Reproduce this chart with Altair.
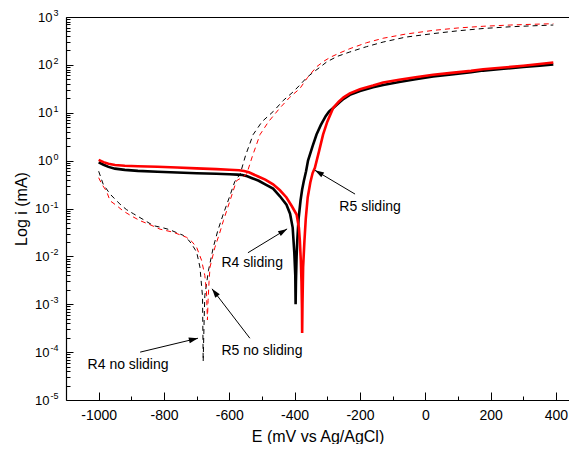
import math
import altair as alt
import pandas as pd

# ---------------- data ----------------
R4_SLIDING_E = [-1000, -985, -970, -950, -920, -880, -820, -760, -700, -640, -600, -575, -560, -545, -530,
                -510, -490, -466, -445, -425, -414, -406, -401, -398, -397, -396, -394, -392, -388, -382,
                -377, -372, -365, -359, -345, -333, -320, -305, -295, -282, -265, -250, -231, -200, -160,
                -129, -80, -30, 24, 80, 140, 177, 240, 300, 350, 392]
R4_SLIDING_I = [0.92, 0.82, 0.74, 0.68, 0.64, 0.61, 0.585, 0.565, 0.545, 0.53, 0.52, 0.51, 0.50, 0.47, 0.43,
                0.38, 0.32, 0.26, 0.18, 0.12, 0.078, 0.04, 0.012, 0.004, 0.001, 0.003, 0.01, 0.021, 0.06, 0.145,
                0.25, 0.37, 0.6, 1.0, 2.0, 3.5, 5.5, 8.5, 10.5, 12.6, 16, 19.5, 23.7, 28.5, 34,
                38, 44, 50, 57, 63, 70, 76, 83, 90, 96, 102]

R5_SLIDING_E = [-1000, -985, -970, -950, -920, -880, -820, -760, -700, -640, -600, -570, -555, -540, -527,
                -510, -490, -466, -445, -425, -408, -394, -387, -384, -381, -379, -377.5, -377, -376, -374,
                -370, -366, -360, -352, -345, -338, -325, -313, -300, -282, -265, -250, -231, -200, -160,
                -129, -80, -30, 24, 80, 140, 177, 240, 300, 350, 392]
R5_SLIDING_I = [1.04, 0.93, 0.86, 0.81, 0.78, 0.765, 0.745, 0.72, 0.69, 0.665, 0.645, 0.63, 0.61, 0.57, 0.52,
                0.46, 0.40, 0.32, 0.24, 0.17, 0.11, 0.075, 0.04, 0.021, 0.008, 0.003, 0.0008, 0.00025, 0.001, 0.006,
                0.021, 0.06, 0.17, 0.35, 0.55, 0.71, 1.6, 3.5, 6.5, 12.6, 17, 21, 25.5, 31, 37,
                43, 49, 55, 62, 68, 75, 81, 88, 96, 104, 112]

R4_STATIC_E = [-1000, -986, -965, -945, -935, -915, -894, -860, -833, -800, -782, -760, -741, -725, -715,
               -700, -690, -682, -680, -677, -675, -664, -649, -635, -618, -600, -583, -567, -550, -527,
               -500, -465, -435, -404, -384, -362, -343, -320, -302, -270, -231, -180, -129, -60, 24,
               100, 177, 260, 330, 392]
R4_STATIC_I = [0.6, 0.32, 0.2, 0.145, 0.124, 0.095, 0.078, 0.057, 0.044, 0.039, 0.036, 0.031, 0.0275, 0.022, 0.018,
               0.0123, 0.006, 0.00145, 0.000064, 0.0005, 0.0015, 0.005, 0.0155, 0.035, 0.078, 0.17, 0.37, 0.52, 1.3, 3.5,
               6.5, 10.7, 18, 27.5, 38, 55, 70, 92, 115, 150, 186, 240, 300, 380, 450,
               515, 575, 625, 655, 680]

R5_STATIC_E = [-1000, -990, -976, -965, -945, -925, -900, -874, -840, -812, -772, -731, -715, -700, -685,
               -675, -670, -667, -665, -662, -659, -644, -630, -618, -598, -578, -560, -547, -530, -506,
               -480, -445, -415, -384, -360, -333, -310, -290, -260, -231, -180, -129, -60, 24, 100,
               177, 260, 330, 392]
R5_STATIC_I = [0.44, 0.32, 0.23, 0.145, 0.115, 0.089, 0.07, 0.056, 0.045, 0.037, 0.032, 0.025, 0.0205, 0.0155, 0.0083,
               0.004, 0.0019, 0.00047, 0.0012, 0.003, 0.006, 0.0155, 0.03, 0.056, 0.145, 0.38, 0.45, 0.52, 1.2, 3.5,
               6.5, 12.6, 21, 32, 55, 91, 120, 145, 180, 218, 290, 360, 440, 525, 590,
               640, 680, 705, 725]

LABELS = ["R4 no sliding", "R5 no sliding", "R4 sliding", "R5 sliding"]
LABEL_E = [-910, -500, -530, -169]
LABEL_I = [5.3e-5, 1.05e-4, 7.4e-3, 0.107]
ARROW_E0 = [-873, -537, -543, -215]
ARROW_I0 = [1.0e-4, 1.95e-4, 0.0119, 0.2]
ARROW_E1 = [-696, -653, -423, -338]
ARROW_I1 = [1.95e-4, 2.1e-3, 0.0375, 0.63]

X_MAJOR = list(range(-1000, 401, 200))
X_MINOR = list(range(-900, 301, 200))
Y_DECADES = [10.0 ** k for k in range(-5, 4)]
Y_MINOR = [m * 10.0 ** k for k in range(-5, 3) for m in range(2, 10)]

# ---------------- layout ----------------
W, H = 503, 383
X_DOMAIN = [-1100, 440]
Y_DOMAIN = [1e-5, 1e3]
FONT = "Liberation Sans"


def px(e):
    return (e - X_DOMAIN[0]) / (X_DOMAIN[1] - X_DOMAIN[0]) * W


def py(v):
    lo, hi = math.log10(Y_DOMAIN[0]), math.log10(Y_DOMAIN[1])
    return (hi - math.log10(v)) / (hi - lo) * H


def frame(E, I):
    return pd.DataFrame({"E": E, "i": I, "order": list(range(len(E)))})


xs = alt.Scale(domain=X_DOMAIN, nice=False, zero=False)
ys = alt.Scale(type="log", domain=Y_DOMAIN, nice=False)

common = dict(grid=False, labelFlush=False, labelOverlap=False)

x_main_axis = alt.Axis(values=X_MAJOR, labelExpr="'' + datum.value", ticks=False,
                       domainColor="black", domainWidth=1.2, labelFont=FONT, labelFontSize=14,
                       labelColor="black", labelPadding=8, title="E (mV vs Ag/AgCl)", titleFont=FONT,
                       titleFontSize=16, titleFontWeight="normal", titleColor="black", titlePadding=6,
                       **common)
y_main_axis = alt.Axis(values=Y_DECADES, labelExpr="'10'", ticks=False, domainColor="black",
                       domainWidth=1.2, labelFont=FONT, labelFontSize=13, labelColor="black",
                       labelPadding={"condition": {"test": "datum.value < 1", "value": 17}, "value": 14},
                       title="Log i (mA)", titleFont=FONT, titleFontSize=16, titleFontWeight="normal",
                       titleColor="black", titlePadding=5, **common)
y_exp_axis = alt.Axis(values=Y_DECADES, labelExpr="'' + round(log(datum.value) / LN10)", ticks=False,
                      domain=False, labelFont=FONT, labelFontSize=9, labelColor="black", labelAlign="right",
                      labelPadding=8, labelOffset=-4.5, title=None, **common)
y_tick_axis = alt.Axis(orient="right", offset=-W, values=Y_DECADES + Y_MINOR, labels=False, domain=False,
                       tickColor="black", tickWidth=1,
                       tickSize={"condition": {"test": "abs(log(datum.value) / LN10 - round(log(datum.value) / LN10)) < 0.000001",
                                               "value": 7}, "value": 4},
                       title=None, **common)
x_tick_axis = alt.Axis(orient="top", offset=-H, values=X_MAJOR + X_MINOR, labels=False, domain=False,
                       tickColor="black", tickWidth=1,
                       tickSize={"condition": {"test": "datum.value % 200 == 0", "value": 8}, "value": 4},
                       title=None, **common)
x_top_axis = alt.Axis(orient="top", labels=False, ticks=False, domain=True, domainColor="black",
                      domainWidth=1.2, title=None, **common)


def line(df, color, width, dash, xaxis=None, yaxis=None):
    kw = dict(color=color, strokeWidth=width, clip=True)
    if dash:
        kw["strokeDash"] = dash
    return alt.Chart(df).mark_line(**kw).encode(
        x=alt.X("E:Q", scale=xs, axis=xaxis),
        y=alt.Y("i:Q", scale=ys, axis=yaxis),
        order="order:Q",
    )


black_solid = line(frame(R4_SLIDING_E, R4_SLIDING_I), "black", 2.6, None, x_main_axis, y_main_axis)
red_solid = line(frame(R5_SLIDING_E, R5_SLIDING_I), "#ff0000", 2.6, None, x_tick_axis, y_tick_axis)
black_dash = line(frame(R4_STATIC_E, R4_STATIC_I), "black", 1, [5, 4], x_top_axis, y_exp_axis)
red_dash = line(frame(R5_STATIC_E, R5_STATIC_I), "#ff0000", 1, [5, 4])

ann = pd.DataFrame({"label": LABELS, "E": LABEL_E, "i": LABEL_I})
texts = alt.Chart(ann).mark_text(font=FONT, fontSize=14, color="black").encode(
    x=alt.X("E:Q", scale=xs, axis=None),
    y=alt.Y("i:Q", scale=ys, axis=None),
    text="label:N",
)

angles = []
for e0, i0, e1, i1 in zip(ARROW_E0, ARROW_I0, ARROW_E1, ARROW_I1):
    dx = px(e1) - px(e0)
    dy = py(i1) - py(i0)
    angles.append(math.degrees(math.atan2(dx, -dy)) % 360)

arr = pd.DataFrame({"E0": ARROW_E0, "i0": ARROW_I0, "E1": ARROW_E1, "i1": ARROW_I1, "angle": angles})
shafts = alt.Chart(arr).mark_rule(color="black", strokeWidth=1).encode(
    x=alt.X("E0:Q", scale=xs, axis=None),
    y=alt.Y("i0:Q", scale=ys, axis=None),
    x2="E1:Q",
    y2="i1:Q",
)
heads = alt.Chart(arr).mark_point(shape="M0,0L0.5,1.6L-0.5,1.6Z", filled=True, size=130,
                                  color="black", opacity=1).encode(
    x=alt.X("E1:Q", scale=xs, axis=None),
    y=alt.Y("i1:Q", scale=ys, axis=None),
    angle=alt.Angle("angle:Q", scale=None),
)

chart = alt.layer(black_solid, red_solid, black_dash, red_dash, texts, shafts, heads).resolve_axis(
    x="independent", y="independent"
).properties(
    width=W, height=H,
    autosize=alt.AutoSizeParams(type="none"),
    padding={"left": 58, "top": 9, "right": 0, "bottom": 44},
).configure_view(stroke=None).configure(background="white")

chart.save("out.html", embed_options={"renderer": "svg", "actions": False})
